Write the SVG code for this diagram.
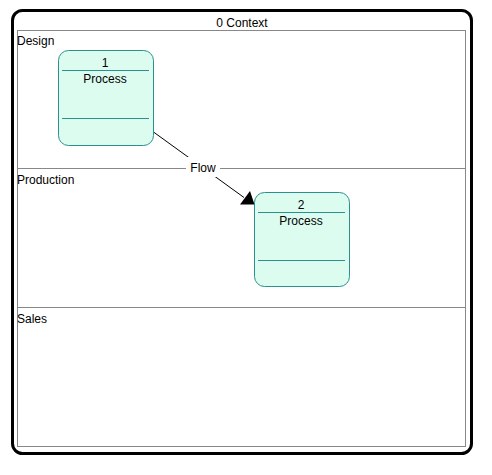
<svg xmlns="http://www.w3.org/2000/svg" width="492" height="475" viewBox="0 0 492 475">
<style>
text{font-family:"Liberation Sans",Arial,sans-serif;font-size:12px;fill:#000}
.c{text-anchor:middle}
.lane{fill:none;stroke:#888;stroke-width:1}
.proc{fill:#ddfcf0;stroke:#2a9090;stroke-width:1}
.sep{stroke:#2a9090;stroke-width:1}
.flow{stroke:#000;stroke-width:1;fill:none}
</style>
<rect width="492" height="475" fill="#fff"/>
<g id="frame">
<rect x="12.5" y="10.5" width="459" height="443" rx="10" ry="10" fill="none" stroke="#000" stroke-width="3"/>
<text class="c" x="242" y="27">0 Context</text>
</g>
<g id="lanes">
<rect class="lane" x="17.5" y="30.5" width="448" height="416"/>
<line class="lane" x1="17.5" y1="168.5" x2="465.5" y2="168.5"/>
<line class="lane" x1="17.5" y1="307.5" x2="465.5" y2="307.5"/>
<text x="17" y="45">Design</text>
<text x="17" y="184">Production</text>
<text x="17" y="323">Sales</text>
</g>
<g id="connectors">
<line class="flow" x1="153.5" y1="132" x2="244" y2="197.5"/>
<polygon points="240,204.5 250,191 254.5,204.5" fill="#000"/>
<rect x="186" y="157" width="34" height="20" fill="#fff"/>
<text class="c" x="203" y="172">Flow</text>
</g>
<g id="process1">
<rect class="proc" x="58.5" y="50.5" width="95" height="95" rx="10" ry="10"/>
<line class="sep" x1="62" y1="70.5" x2="149" y2="70.5"/>
<line class="sep" x1="62" y1="118.5" x2="149" y2="118.5"/>
<text class="c" x="105" y="67">1</text>
<text class="c" x="105" y="83">Process</text>
</g>
<g id="process2">
<rect class="proc" x="254.5" y="192.5" width="95" height="94" rx="10" ry="10"/>
<line class="sep" x1="258" y1="212.5" x2="345" y2="212.5"/>
<line class="sep" x1="258" y1="260.5" x2="345" y2="260.5"/>
<text class="c" x="301" y="209">2</text>
<text class="c" x="301" y="225">Process</text>
</g>
</svg>
